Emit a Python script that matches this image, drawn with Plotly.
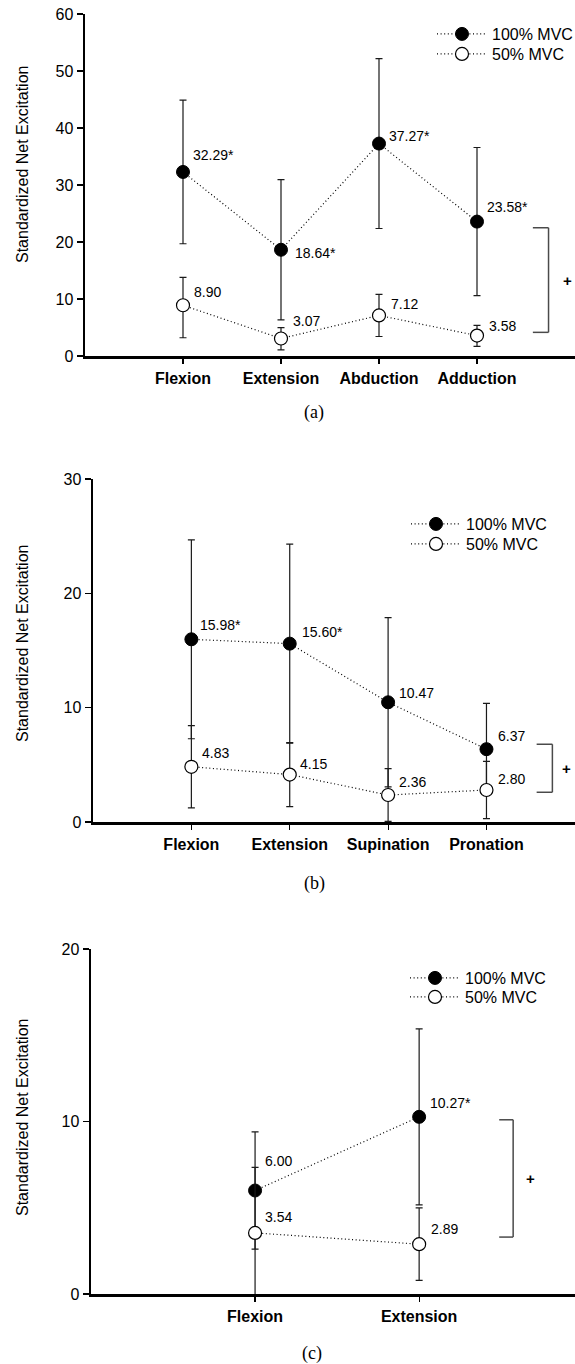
import plotly.graph_objects as go

W, H = 575, 1364

# ---------------- data ----------------
# panel (a)
cats_a = ["Flexion", "Extension", "Abduction", "Adduction"]
mvc100_a = [32.29, 18.64, 37.27, 23.58]
mvc100_a_sd = [12.6, 12.3, 14.9, 13.0]
sig100_a = [True, True, True, True]
mvc50_a = [8.90, 3.07, 7.12, 3.58]
mvc50_a_up = [4.9, 1.9, 3.7, 1.8]
mvc50_a_dn = [5.7, 2.0, 3.7, 1.9]
sig50_a = [False, False, False, False]

# panel (b)
cats_b = ["Flexion", "Extension", "Supination", "Pronation"]
mvc100_b = [15.98, 15.60, 10.47, 6.37]
mvc100_b_sd = [8.7, 8.7, 7.4, 4.0]
sig100_b = [True, True, False, False]
mvc50_b = [4.83, 4.15, 2.36, 2.80]
mvc50_b_sd = [3.6, 2.8, 2.3, 2.5]
sig50_b = [False, False, False, False]

# panel (c)
cats_c = ["Flexion", "Extension"]
mvc100_c = [6.00, 10.27]
mvc100_c_sd = [3.4, 5.1]
sig100_c = [False, True]
mvc50_c = [3.54, 2.89]
mvc50_c_sd = [3.8, 2.1]
sig50_c = [False, False]

# brackets (low, high) of the "+" comparison
bracket_a = [4.15, 22.5]
bracket_b = [2.6, 6.8]
bracket_c = [3.3, 10.1]

y_title = "Standardized Net Excitation"
series_names = ["100% MVC", "50% MVC"]

# ---------------- styling ----------------
FONT = "Arial, Liberation Sans, sans-serif"
SERIF = "Times New Roman, Liberation Serif, serif"
DOT = "1px,2.6px"


def py(p):
    """pixel row -> paper y"""
    return 1 - p / H


def px(p):
    """pixel column -> paper x"""
    return p / W


panels = [
    dict(cats=cats_a, m100=mvc100_a, e100=(mvc100_a_sd, mvc100_a_sd), s100=sig100_a,
         m50=mvc50_a, e50=(mvc50_a_up, mvc50_a_dn), s50=sig50_a,
         ymax=60, dtick=10, xdom=(85, W), ydom=(14, 356), xmax=5.0,
         off100=[(8, 17), (12, -3), (8, 8), (8, 15)],
         off50=[(9, 13), (10, 18), (10, 11), (10, 10)],
         bracket=bracket_a, bx=(4.57, 4.73, 4.92),
         leg_x=432, leg_rows=(33, 53), caption="(a)", capy=413, capx=314, titley=165),
    dict(cats=cats_b, m100=mvc100_b, e100=(mvc100_b_sd, mvc100_b_sd), s100=sig100_b,
         m50=mvc50_b, e50=(mvc50_b_sd, mvc50_b_sd), s50=sig50_b,
         ymax=30, dtick=10, xdom=(93, W), ydom=(479, 822), xmax=4.9,
         off100=[(7, 14), (10, 12), (9, 9), (10, 13)],
         off50=[(9, 14), (8, 11), (9, 13), (10, 11)],
         bracket=bracket_b, bx=(4.51, 4.67, 4.81),
         leg_x=406, leg_rows=(523, 543), caption="(b)", capy=883, capx=314, titley=644),
    dict(cats=cats_c, m100=mvc100_c, e100=(mvc100_c_sd, mvc100_c_sd), s100=sig100_c,
         m50=mvc50_c, e50=(mvc50_c_sd, mvc50_c_sd), s50=sig50_c,
         ymax=20, dtick=10, xdom=(91, W), ydom=(949, 1294), xmax=2.95,
         off100=[(8, 30), (9, 14)],
         off50=[(8, 16), (10, 15)],
         bracket=bracket_c, bx=(2.488, 2.573, 2.677),
         leg_x=405, leg_rows=(977, 996), caption="(c)", capy=1353, capx=312, titley=1118),
]

fig = go.Figure()
annotations = []
shapes = []
layout = {}
leg_count = 0

for i, p in enumerate(panels):
    n = i + 1
    xa = "x" if n == 1 else f"x{n}"
    ya = "y" if n == 1 else f"y{n}"
    xs = list(range(1, len(p["cats"]) + 1))

    series = [
        (p["m100"], p["e100"], "black", 1.0),
        (p["m50"], p["e50"], "white", 1.2),
    ]
    for k, (vals, err, fill, lw) in enumerate(series):
        leg_count += 1
        lg = "legend" if leg_count == 1 else f"legend{leg_count}"
        fig.add_trace(go.Scatter(
            x=xs, y=vals, name=series_names[k], mode="lines+markers",
            xaxis=xa, yaxis=ya, legend=lg,
            line=dict(color="black", width=1.2, dash=DOT),
            marker=dict(symbol="circle", size=13, color=fill, line=dict(color="black", width=lw)),
            error_y=dict(type="data", symmetric=False, array=err[0], arrayminus=err[1],
                         color="#1a1a1a", thickness=1.2, width=3.5),
        ))
        layout[lg] = dict(x=px(p["leg_x"]), y=py(p["leg_rows"][k] - 16),
                          xanchor="left", yanchor="top",
                          bgcolor="rgba(0,0,0,0)", font=dict(family=FONT, size=16, color="black"),
                          tracegroupgap=0, itemwidth=50)

    # value labels
    for vals, sig, offs in ((p["m100"], p["s100"], p["off100"]), (p["m50"], p["s50"], p["off50"])):
        for x, v, s, (dx, dy) in zip(xs, vals, sig, offs):
            annotations.append(dict(
                x=x, y=v, xref=xa, yref=ya, text=f"{v:.2f}" + ("*" if s else ""),
                showarrow=False, xanchor="left", yanchor="middle",
                xshift=dx, yshift=dy, font=dict(family=FONT, size=14, color="black")))

    # bracket
    lo, hi = p["bracket"]
    bx0, bx1, bplus = p["bx"]
    bcol = "#4a4a4a"
    for (x0, x1, y0, y1) in ((bx1, bx1, lo, hi), (bx0, bx1, hi, hi), (bx0, bx1, lo, lo)):
        shapes.append(dict(type="line", xref=xa, yref=ya, x0=x0, x1=x1, y0=y0, y1=y1,
                           line=dict(color=bcol, width=1.5)))
    annotations.append(dict(x=bplus, y=(lo + hi) / 2, xref=xa, yref=ya, text="<b>+</b>",
                            showarrow=False, xanchor="center", yanchor="middle",
                            font=dict(family=FONT, size=15, color="black")))

    # y title
    annotations.append(dict(x=px(22), y=py(p["titley"]), xref="paper", yref="paper",
                            text=y_title, textangle=-90, showarrow=False,
                            xanchor="center", yanchor="middle",
                            font=dict(family=FONT, size=16, color="black")))
    # caption
    annotations.append(dict(x=px(p["capx"]), y=py(p["capy"]), xref="paper", yref="paper",
                            text=p["caption"], showarrow=False, xanchor="center", yanchor="middle",
                            font=dict(family=SERIF, size=18, color="black")))

    xkey = "xaxis" if n == 1 else f"xaxis{n}"
    ykey = "yaxis" if n == 1 else f"yaxis{n}"
    layout[xkey] = dict(
        domain=[px(p["xdom"][0]), px(p["xdom"][1])], anchor=ya, range=[0, p["xmax"]],
        tickmode="array", tickvals=xs, ticktext=[f"<b>{c}</b>" for c in p["cats"]],
        showline=True, linecolor="black", linewidth=2.5, ticks="outside", ticklen=5,
        tickwidth=1.2, tickcolor="black", showgrid=False, zeroline=False,
        ticklabelstandoff=1, automargin=False, fixedrange=True, ticklabeloverflow="allow",
        tickfont=dict(family=FONT, size=16, color="black"),
    )
    layout[ykey] = dict(
        domain=[py(p["ydom"][1]), py(p["ydom"][0])], anchor=xa, range=[0, p["ymax"]],
        tickmode="linear", tick0=0, dtick=p["dtick"],
        showline=True, linecolor="black", linewidth=2.5, ticks="outside", ticklen=6,
        tickwidth=1.5, tickcolor="black", showgrid=False, zeroline=False,
        automargin=False, fixedrange=True, ticklabeloverflow="allow",
        tickfont=dict(family=FONT, size=16, color="black"),
    )

fig.update_layout(
    width=W, height=H, margin=dict(l=0, r=0, t=0, b=0, autoexpand=False),
    paper_bgcolor="white", plot_bgcolor="white",
    showlegend=True, annotations=annotations, shapes=shapes,
    **layout,
)

fig.write_html(
    "out.html",
    config={"displayModeBar": False, "staticPlot": True},
    post_script="document.body.style.margin='0';document.body.style.overflow='hidden';",
)
